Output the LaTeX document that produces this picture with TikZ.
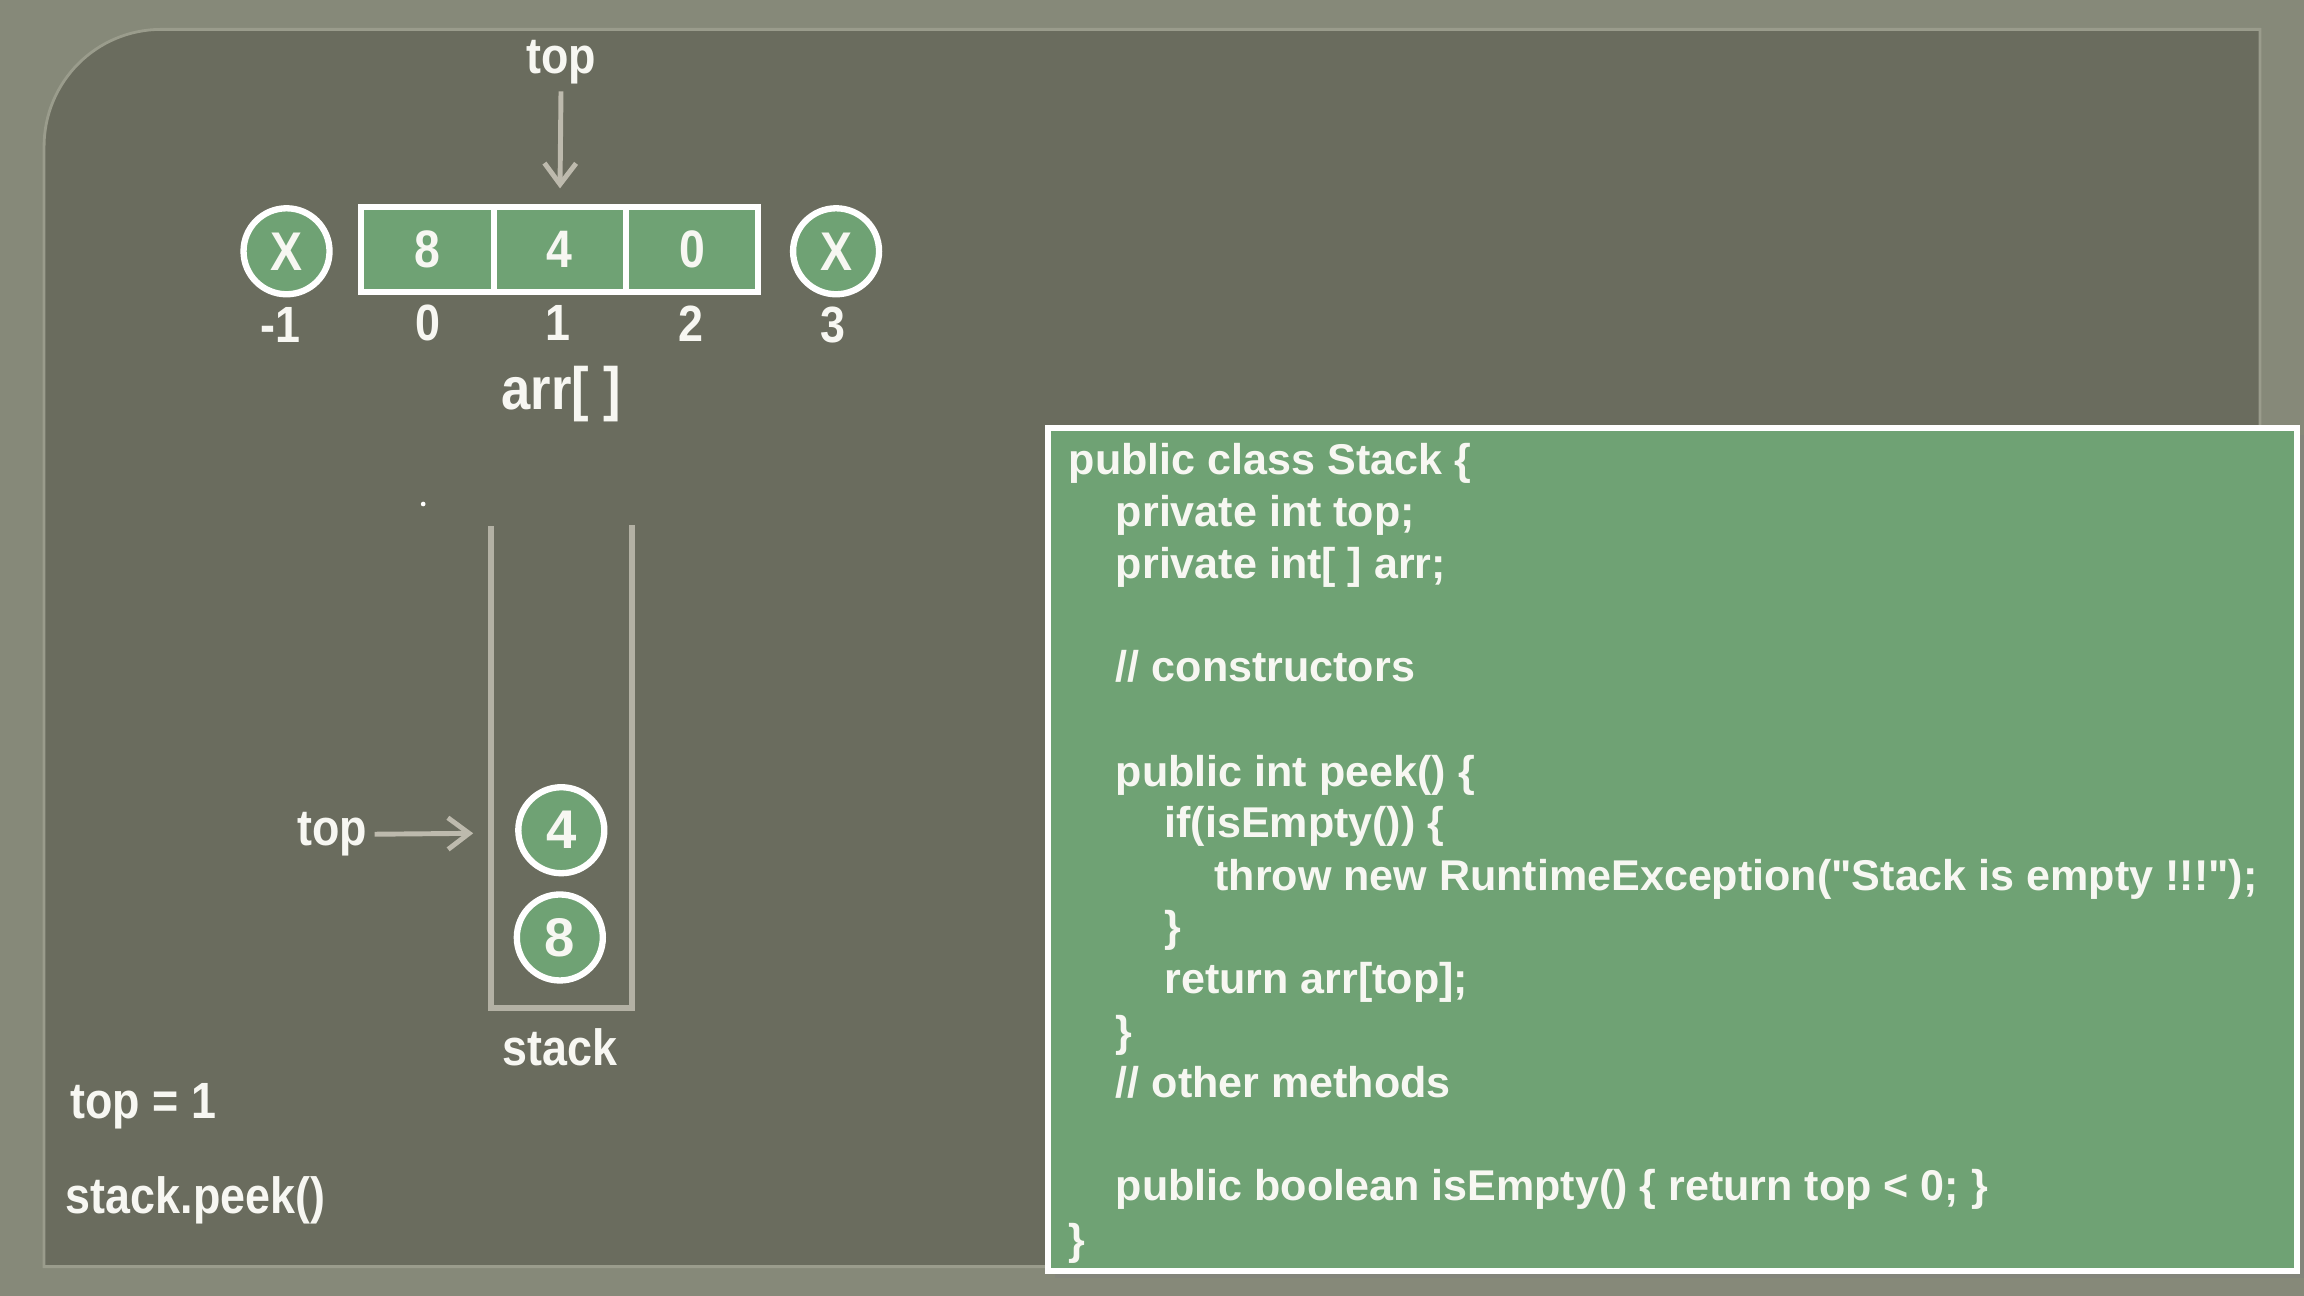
\documentclass[tikz,border=0pt]{standalone}
\usepackage{fontspec}
\setmainfont{Liberation Sans}
\newfontfamily\codefont{Liberation Sans}
\usetikzlibrary{arrows.meta,shadows}
\definecolor{outerbg}{HTML}{868979}
\definecolor{panel}{HTML}{6A6C5E}
\definecolor{panelrim}{HTML}{9A9C8C}
\definecolor{cellgreen}{HTML}{6FA274}
\definecolor{arrowgray}{HTML}{BDBAAD}
\definecolor{wallgray}{HTML}{B3B1A4}
\definecolor{txt}{HTML}{F7F7F2}
\newcommand{\cnd}[1]{\scalebox{0.88}[1]{#1}}
\tikzset{
  lbl/.style={text=txt, font=\fontsize{14.5}{16}\selectfont\bfseries, inner sep=1pt},
  bigl/.style={text=txt, font=\fontsize{17}{18}\selectfont\bfseries, inner sep=1pt},
  cell/.style={draw=white, fill=cellgreen, line width=1.7pt, minimum width=1.3225cm, minimum height=0.852cm, inner sep=0pt, text=txt, font=\fontsize{15}{16}\selectfont\bfseries},
  ball/.style={circle, draw=white, fill=cellgreen, line width=1.8pt, minimum size=0.86cm, inner sep=0pt, text=txt, font=\fontsize{15.5}{16}\selectfont\bfseries},
  grayarrow/.style={draw=arrowgray, line width=1.4pt, -{Straight Barb[length=6pt,width=9pt,line width=1.4pt]}},
  codeline/.style={anchor=base west, text=txt, font=\codefont\fontsize{12.25}{14}\selectfont\bfseries, inner sep=0pt},
}
\begin{document}
\begin{tikzpicture}[x=0.014694cm,y=-0.014694cm]
\useasboundingbox (0,0) rectangle (1568,882);
\fill[outerbg] (0,0) rectangle (1568,882);
% panel
\fill[panel] (30,862) [rounded corners=1.17cm]-- (30,20) [sharp corners]-- (1538,20) -- (1538,862) -- cycle;
\draw[panelrim, line width=0.8pt] (30,862) [rounded corners=1.17cm]-- (30,20) [sharp corners]-- (1538,20) -- (1538,862) -- cycle;

% array
\node[cell] (c0) at (291,170) {\cnd{8}};
\node[cell] (c1) at (381,170) {\cnd{4}};
\node[cell] (c2) at (471,170) {\cnd{0}};
\node[ball] (xl) at (195,171) {\cnd{X}};
\node[ball] (xr) at (569,171) {\cnd{X}};
\node[lbl] (im1) at (191,221) {\cnd{-1}};
\node[lbl] (i0) at (291,220) {\cnd{0}};
\node[lbl] (i1) at (380,220) {\cnd{1}};
\node[lbl] (i2) at (470,220) {\cnd{2}};
\node[lbl] (i3) at (567,221) {\cnd{3}};
\node[bigl] (arrlbl) at (382,268) {\cnd{arr[ ]}};
\node[lbl] (toplblA) at (382,42) {\cnd{top}};
\draw[grayarrow, shorten >=4.5pt, shorten <=1pt] (toplblA) -- (c1.north);

% small dot
\fill[white] (288,343) circle (1.6);

% stack
\coordinate (wTL) at (334,358);
\coordinate (wBL) at (334,686);
\coordinate (wBR) at (430,686);
\coordinate (wTR) at (430,357);
\draw[wallgray, line width=1.6pt] (wTL) -- (wBL) -- (wBR) -- (wTR);
\node[ball] (s4) at (382,565) {4};
\node[ball] (s8) at (381,638) {8};
\node[lbl] (toplblB) at (226,568) {\cnd{top}};
\coordinate (wallL) at (334,567);
\draw[grayarrow, shorten >=5pt, shorten <=1pt] (toplblB) -- (wallL);
\node[lbl] (stacklbl) at (381,713) {\cnd{stack}};

\node[lbl, anchor=west] (topeq) at (45,753) {\cnd{top = 1}};
\node[lbl, anchor=west] (peek) at (42,817) {\cnd{stack.peek()}};

% code box
\node[draw=white, fill=cellgreen, line width=1.7pt, minimum width=12.49cm, minimum height=8.434cm, drop shadow={opacity=0.35, shadow xshift=2pt, shadow yshift=-2pt}] (codebox) at (1138,578) {};
\node[codeline] (l1) at (727,323) {public class Stack \{};
\node[codeline] (l2) at (759,358) {private int top;};
\node[codeline] (l3) at (759,394) {private int[ ] arr;};
\node[codeline] (l4) at (759,464) {// constructors};
\node[codeline] (l5) at (759,535) {public int peek() \{};
\node[codeline] (l6) at (792,570) {if(isEmpty()) \{};
\node[codeline] (l7) at (826,606) {throw new RuntimeException("Stack is empty !!!");};
\node[codeline] (l8) at (792,641) {\}};
\node[codeline] (l9) at (792,676) {return arr[top];};
\node[codeline] (l10) at (759,712) {\}};
\node[codeline] (l11) at (759,747) {// other methods};
\node[codeline] (l12) at (759,817) {public boolean isEmpty() \{ return top < 0; \}};
\node[codeline] (l13) at (727,854) {\}};
\end{tikzpicture}
\end{document}
